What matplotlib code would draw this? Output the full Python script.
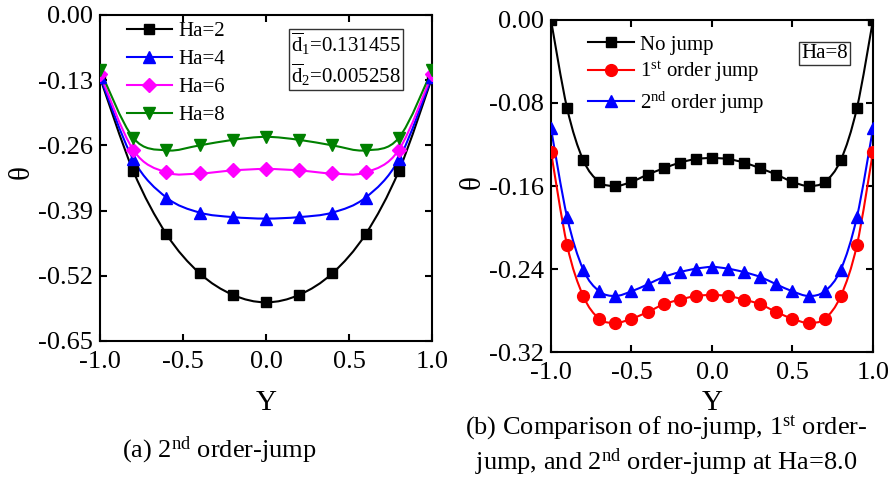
import numpy as np
import matplotlib
matplotlib.use("Agg")
import matplotlib.pyplot as plt
from matplotlib.path import Path
from matplotlib.patches import PathPatch
from matplotlib.lines import Line2D

plt.rcParams['font.family'] = ['Liberation Serif', 'DejaVu Serif']
plt.rcParams['mathtext.fontset'] = 'custom'
plt.rcParams['mathtext.rm'] = 'Liberation Serif'
plt.rcParams['mathtext.it'] = 'Liberation Serif:italic'
plt.rcParams['axes.unicode_minus'] = False

# (a) temperature profiles, 2nd order jump, several Ha
y_a = [-1.0, -0.8, -0.6, -0.4, -0.2, 0.0, 0.2, 0.4, 0.6, 0.8, 1.0]
ha2 = [-0.125, -0.311, -0.437, -0.515, -0.558, -0.573, -0.558, -0.515, -0.437, -0.311, -0.125]
ha4 = [-0.123, -0.288, -0.364, -0.394, -0.403, -0.406, -0.403, -0.394, -0.364, -0.288, -0.123]
ha6 = [-0.118, -0.269, -0.314, -0.316, -0.310, -0.307, -0.310, -0.316, -0.314, -0.269, -0.118]
ha8 = [-0.110, -0.245, -0.270, -0.260, -0.249, -0.243, -0.249, -0.260, -0.270, -0.245, -0.110]
ha_labels = ['Ha=2', 'Ha=4', 'Ha=6', 'Ha=8']

# (b) Ha=8, no jump vs 1st / 2nd order jump
y_b = [-1.0, -0.9, -0.8, -0.7, -0.6, -0.5, -0.4, -0.3, -0.2, -0.1, 0.0,
       0.1, 0.2, 0.3, 0.4, 0.5, 0.6, 0.7, 0.8, 0.9, 1.0]
no_jump = [0.000, -0.085, -0.135, -0.156, -0.160, -0.156, -0.149, -0.143, -0.1375, -0.134, -0.133,
           -0.134, -0.1375, -0.143, -0.149, -0.156, -0.160, -0.156, -0.135, -0.085, 0.000]
first_jump = [-0.127, -0.217, -0.266, -0.288, -0.292, -0.288, -0.2815, -0.274, -0.2695, -0.266, -0.265,
              -0.266, -0.2695, -0.274, -0.2815, -0.288, -0.292, -0.288, -0.266, -0.217, -0.127]
second_jump = [-0.1045, -0.190, -0.2405, -0.2615, -0.266, -0.2615, -0.2548, -0.2477, -0.243, -0.2397, -0.238,
               -0.2397, -0.243, -0.2477, -0.2548, -0.2615, -0.266, -0.2615, -0.2405, -0.190, -0.1045]
jump_labels = ['No jump', '1$^{\\mathrm{st}}$ order jump', '2$^{\\mathrm{nd}}$ order jump']


def smooth_curve(ax, xs, ys, color):
    # Catmull-Rom spline through the points, drawn as cubic Bezier segments
    p = np.column_stack([xs, ys]).astype(float)
    ext = np.vstack([p[0], p, p[-1]])
    verts = [p[0]]
    codes = [Path.MOVETO]
    for i in range(len(p) - 1):
        p0, p1, p2, p3 = ext[i], ext[i + 1], ext[i + 2], ext[i + 3]
        verts += [p1 + (p2 - p0) / 6.0, p2 - (p3 - p1) / 6.0, p2]
        codes += [Path.CURVE4] * 3
    ax.add_patch(PathPatch(Path(verts, codes), fill=False, edgecolor=color,
                           lw=1.5, capstyle='round', joinstyle='round', zorder=2))


def style_axes(ax, yticks):
    for s in ax.spines.values():
        s.set_linewidth(1.5)
    ax.tick_params(direction='in', length=5, width=1.5, top=True, right=True,
                   labelsize=19, pad=5)
    ax.tick_params(axis='x', pad=7)
    ax.set_xlim(-1.0, 1.0)
    ax.set_xticks([-1.0, -0.5, 0.0, 0.5, 1.0])
    ax.set_xticklabels(['-1.0', '-0.5', '0.0', '0.5', '1.0'])
    ax.set_ylim(yticks[-1], yticks[0])
    ax.set_yticks(yticks)
    ax.set_yticklabels(['%.2f' % t for t in yticks])


fig = plt.figure(figsize=(8.93, 4.84), dpi=100)
ax1 = fig.add_axes([0.1120, 0.2955, 0.3718, 0.6736])
ax2 = fig.add_axes([0.6170, 0.2727, 0.3606, 0.6860])

# left panel
series_a = [ha2, ha4, ha6, ha8]
colors_a = ['black', '#0000ff', '#ff00ff', '#008000']
markers_a = ['s', '^', 'D', 'v']
msizes_a = [7.5, 8.5, 7.5, 8.5]
handles_a = []
for vals, c, m, ms, lab in zip(series_a, colors_a, markers_a, msizes_a, ha_labels):
    smooth_curve(ax1, y_a, vals, c)
    ax1.plot(y_a, vals, ls='none', marker=m, ms=ms, color=c, zorder=3)
    handles_a.append(Line2D([], [], color=c, lw=1.5, marker=m, ms=ms, label=lab))
style_axes(ax1, [0.0, -0.13, -0.26, -0.39, -0.52, -0.65])
ax1.set_xlabel('Y', fontsize=21, va='top')
ax1.xaxis.set_label_coords(0.5, -0.150)
ax1.set_ylabel('θ', fontsize=21, va='center')
ax1.yaxis.set_label_coords(-0.235, 0.518)
ax1.legend(handles=handles_a, loc='upper left', bbox_to_anchor=(0.08, 0.98),
           frameon=False, fontsize=15, handlelength=2.2, handletextpad=0.3,
           labelspacing=0.4, borderpad=0, borderaxespad=0)
ax1.text(0.575, 0.95,
         '$\\overline{\\mathrm{d}}_{1}$=0.131455\n$\\overline{\\mathrm{d}}_{2}$=0.005258',
         transform=ax1.transAxes, fontsize=15, va='top', ha='left', linespacing=1.2,
         bbox=dict(boxstyle='square,pad=0.1', fc='white', ec='#333333', lw=1.0))

# right panel
series_b = [no_jump, first_jump, second_jump]
colors_b = ['black', '#ff0000', '#0000ff']
markers_b = ['s', 'o', '^']
msizes_b = [7.5, 8.5, 8.5]
handles_b = []
for vals, c, m, ms, lab in zip(series_b, colors_b, markers_b, msizes_b, jump_labels):
    smooth_curve(ax2, y_b, vals, c)
    ax2.plot(y_b, vals, ls='none', marker=m, ms=ms, color=c, zorder=3)
    handles_b.append(Line2D([], [], color=c, lw=1.5, marker=m, ms=ms, label=lab))
style_axes(ax2, [0.0, -0.08, -0.16, -0.24, -0.32])
ax2.set_xlabel('Y', fontsize=21, va='top')
ax2.xaxis.set_label_coords(0.5, -0.114)
ax2.set_ylabel('θ', fontsize=21, va='center')
ax2.yaxis.set_label_coords(-0.242, 0.512)
ax2.legend(handles=handles_b, loc='upper left', bbox_to_anchor=(0.115, 0.955),
           frameon=False, fontsize=15, handlelength=2.2, handletextpad=0.3,
           labelspacing=0.25, borderpad=0, borderaxespad=0)
ax2.text(0.85, 0.90, 'Ha=8', transform=ax2.transAxes, fontsize=15,
         ha='center', va='center',
         bbox=dict(boxstyle='square,pad=0.1', fc='white', ec='#333333', lw=1.0))

# captions
fig.text(122 / 893, 1 - 450 / 484, '(a) 2$^{\\mathrm{nd}}$ order-jump',
         fontsize=19, ha='left', va='center')
fig.text(666 / 893, 1 - 446 / 484,
         '(b) Comparison of no-jump, 1$^{\\mathrm{st}}$ order-\n'
         'jump, and 2$^{\\mathrm{nd}}$ order-jump at Ha=8.0',
         fontsize=19, ha='center', va='center', multialignment='center',
         linespacing=1.2)

fig.savefig('out.png', dpi=100)
